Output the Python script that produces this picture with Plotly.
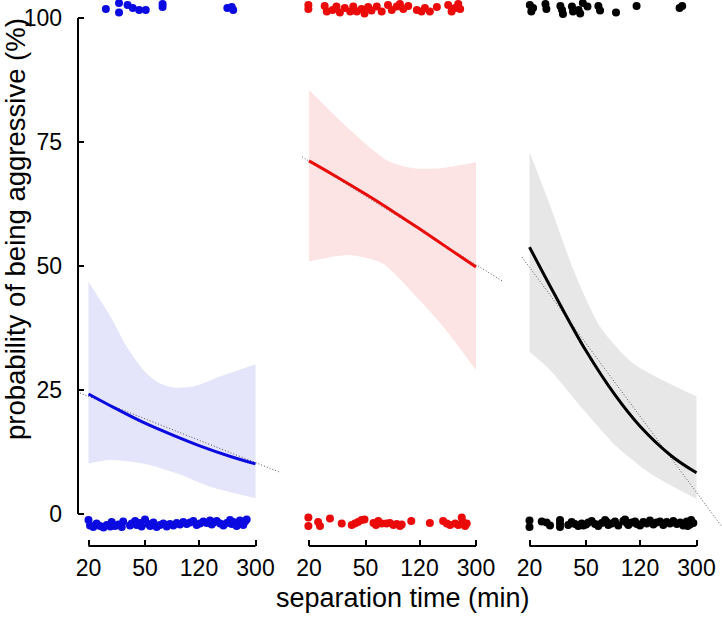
import math
import plotly.graph_objects as go

# ── data (separation time in min, probability in %) ───────────
time_ticks = [20, 50, 120, 300]
prob_ticks = [0, 25, 50, 75, 100]

curve_x = [20, 30, 50, 80, 120, 200, 300]
blue_fit = [24.2, 21.5, 18.3, 15.8, 13.8, 11.6, 10.1]
red_fit = [71.2, 68.3, 64.5, 60.8, 57.5, 53.2, 49.8]
black_fit = [53.8, 44.3, 32.9, 24.0, 17.7, 11.7, 8.3]

blue_up_x = [20, 28.5, 37.2, 48.8, 63.8, 79.2, 109.5, 168.8, 300]
blue_up = [46.8, 39.8, 33.7, 29.0, 26.3, 25.5, 25.7, 27.7, 30.2]
blue_lo_x = [20, 28, 48.5, 83.6, 144, 300]
blue_lo = [10.2, 10.9, 10.2, 8.2, 5.5, 3.2]

red_up_x = [20, 33, 39, 52, 74, 109, 168, 300]
red_up = [85.5, 79.4, 77.4, 74.2, 71.0, 69.7, 69.7, 70.9]
red_lo_x = [20, 38.4, 66, 114, 176, 300]
red_lo = [50.9, 52.2, 50.5, 43.8, 37.8, 29.0]

black_up_x = [20, 28.1, 40.8, 62.8, 107, 300]
black_up = [73.0, 62.0, 49.2, 37.8, 30.4, 23.7]
black_lo_x = [20, 28, 48, 82, 141, 300]
black_lo = [32.7, 29.0, 21.0, 13.6, 8.2, 3.0]

# dotted reference lines (end points)
blue_ref_x, blue_ref = [17.4, 447], [24.4, 8.4]
red_ref_x, red_ref = [17.9, 458], [72.0, 47.0]
black_ref_x, black_ref = [17.7, 454], [51.8, -2.6]

# observed outcomes (jittered around 0 % and 100 %)
blue_top_x = [26.5, 32.8, 32.8, 37.7, 41.0, 45.5, 50.6, 66.5, 66.5, 190, 204, 209]
blue_top_y = [101.8, 103.0, 101.1, 102.6, 102.0, 101.6, 101.6, 102.8, 102.2, 102.0, 102.2, 101.6]

blue_bot_x = [20, 20.5, 21.6, 22.8, 24.1, 25.5, 26.9, 28.5, 29.1, 30.7,
              32.4, 34.3, 35.1, 39.2, 40.3, 42.6, 43.7, 46.1, 47.3, 50.0,
              52.8, 54.3, 57.3, 60.4, 63.8, 67.3, 71.1, 75.0, 79.2, 83.6,
              88.2, 93.1, 98.3, 103.7, 109.5, 115.6, 122, 128.8, 136, 143.5,
              147.5, 151.5, 160, 168.8, 178.2, 188, 198.5, 204, 209.5, 221,
              233, 240, 246, 253, 260]
blue_bot_y = [-1.2, -2.3, -2.6, -1.9, -2.4, -2.7, -2.2, -2.5, -1.6, -2.4,
              -2.1, -2.6, -1.5, -2.3, -1.9, -1.4, -2.2, -1.8, -2.5, -1.1,
              -2.0, -2.4, -1.7, -2.6, -2.2, -1.9, -2.5, -2.0, -2.3, -1.8,
              -2.1, -1.6, -2.0, -1.7, -1.4, -2.2, -1.9, -1.5, -1.8, -1.3,
              -2.1, -1.7, -1.4, -1.9, -2.3, -1.8, -1.2, -2.0, -1.6, -2.4,
              -1.3, -1.9, -2.2, -1.5, -1.1]

red_top_x = [19.8, 19.8, 25.8, 26.7, 29.3, 31.2, 33.0, 35.7, 39.0, 41.0,
             43.4, 46.9, 49.2, 52.2, 55.1, 60.0, 65.0, 72.0, 76.5, 82.9,
             87.4, 92.2, 100, 115, 124, 131, 142, 159, 191, 202,
             214, 225, 232]
red_top_y = [102.6, 101.8, 102.4, 101.3, 101.6, 102.3, 101.1, 102.0, 101.3, 102.3,
             101.3, 101.8, 100.9, 102.2, 101.5, 102.3, 101.3, 102.6, 101.6, 102.3,
             102.8, 101.8, 102.4, 101.6, 101.3, 102.0, 101.3, 102.2, 102.6, 101.3,
             102.0, 102.8, 101.8]

red_bot_x = [19.8, 19.8, 23.2, 23.9, 28.1, 34.0, 40.0, 42.1, 44.3, 46.9,
             49.2, 56.9, 59.3, 61.5, 65.0, 70.2, 74.3, 78.6, 82.9, 87.4,
             89.9, 105, 142, 176, 187, 197, 214, 225, 238, 242,
             251, 258]
red_bot_y = [-0.7, -2.4, -1.6, -2.4, -0.9, -1.9, -2.2, -1.9, -1.6, -1.2,
             -1.1, -1.8, -2.2, -1.4, -1.9, -1.9, -1.8, -2.2, -2.0, -2.4,
             -2.1, -1.4, -1.8, -1.4, -1.9, -2.2, -1.9, -2.2, -0.7, -1.6,
             -2.4, -1.9]

black_top_x = [20.1, 20.6, 21.2, 25.9, 26.3, 33.0, 33.9, 34.4, 39.8, 40.5,
               44.3, 45.5, 47.5, 51.2, 61.1, 62.8, 81.3, 113.5, 228, 238]
black_top_y = [102.6, 101.3, 102.0, 102.8, 101.8, 102.4, 101.6, 100.8, 102.3, 101.3,
               101.6, 100.9, 103.0, 102.3, 102.4, 101.5, 101.1, 102.4, 102.0, 102.4]

black_bot_x = [20, 20, 24.4, 26.4, 27.9, 32.8, 32.8, 32.8, 37.5, 39.6,
               41.8, 44.1, 46.6, 47.9, 50.0, 51.9, 54.8, 57.9, 61.0, 64.5,
               68.1, 70.0, 71.8, 75.9, 80.0, 84.4, 91.6, 94.2, 96.9, 99.4,
               105, 110.8, 113.9, 120, 126.6, 133.8, 141, 149, 157, 166,
               175, 185, 195, 206, 218, 230, 242, 256, 270, 285,
               260, 275]
black_bot_y = [-1.3, -2.6, -1.5, -1.7, -2.3, -1.2, -1.9, -2.6, -2.2, -1.6,
               -2.0, -2.4, -1.9, -2.3, -2.1, -1.7, -1.4, -2.0, -2.4, -1.8,
               -1.2, -1.6, -2.2, -1.9, -1.5, -2.3, -1.4, -1.1, -1.8, -2.2,
               -1.7, -1.5, -2.0, -2.3, -1.6, -1.9, -1.3, -2.1, -1.7, -1.5,
               -2.2, -1.6, -1.9, -1.4, -2.0, -1.7, -2.3, -1.5, -2.1, -1.8,
               -2.4, -1.2]

# ── layout geometry (pixels) ──────────────────────────────────
W, H = 722, 619
PX_DEC = 142.0                      # pixels per decade on the time axis
tick20_px = [88.5, 309.0, 529.5]    # where the "20" tick sits in each panel
dom_px = [(78, 296), (298.5, 516.5), (519, 722)]
y0_px, y100_px, xaxis_px = 514, 18, 546
px_per_unit = (y0_px - y100_px) / 100.0
y_lo = -(xaxis_px - y0_px) / px_per_unit
y_hi = 100 + y100_px / px_per_unit
y_dom_bottom = 1 - xaxis_px / H

FONT = "Arial, Liberation Sans, sans-serif"

panels = [
    dict(col="rgb(10,10,225)", band="rgb(228,228,250)", fit=blue_fit,
         up=(blue_up_x, blue_up), lo=(blue_lo_x, blue_lo), ref=(blue_ref_x, blue_ref),
         top=(blue_top_x, blue_top_y), bot=(blue_bot_x, blue_bot_y)),
    dict(col="rgb(235,10,10)", band="rgb(253,228,228)", fit=red_fit,
         up=(red_up_x, red_up), lo=(red_lo_x, red_lo), ref=(red_ref_x, red_ref),
         top=(red_top_x, red_top_y), bot=(red_bot_x, red_bot_y)),
    dict(col="rgb(0,0,0)", band="rgb(231,231,231)", fit=black_fit,
         up=(black_up_x, black_up), lo=(black_lo_x, black_lo), ref=(black_ref_x, black_ref),
         top=(black_top_x, black_top_y), bot=(black_bot_x, black_bot_y)),
]

fig = go.Figure()
layout = {}
shapes = []

for i, p in enumerate(panels):
    n = "" if i == 0 else str(i + 1)
    xa = "x" + n
    # confidence band
    fig.add_trace(go.Scatter(x=p["lo"][0], y=p["lo"][1], xaxis=xa, yaxis="y",
                             mode="lines", line=dict(width=0, shape="spline", smoothing=0.7),
                             hoverinfo="skip"))
    fig.add_trace(go.Scatter(x=p["up"][0], y=p["up"][1], xaxis=xa, yaxis="y",
                             mode="lines", line=dict(width=0, shape="spline", smoothing=0.7),
                             fill="tonexty", fillcolor=p["band"], hoverinfo="skip"))
    # dotted reference
    fig.add_trace(go.Scatter(x=p["ref"][0], y=p["ref"][1], xaxis=xa, yaxis="y",
                             mode="lines",
                             line=dict(color="rgb(90,90,90)", width=1, dash="1px,2px")))
    # fitted curve
    fig.add_trace(go.Scatter(x=curve_x, y=p["fit"], xaxis=xa, yaxis="y",
                             mode="lines", line=dict(color=p["col"], width=3, shape="spline")))
    # outcomes
    for xs, ys in (p["top"], p["bot"]):
        fig.add_trace(go.Scatter(x=xs, y=ys, xaxis=xa, yaxis="y", mode="markers",
                                 marker=dict(color=p["col"], size=8, line=dict(width=0)),
                                 cliponaxis=False))

    l_px, r_px = dom_px[i]
    lo = math.log10(20) - (tick20_px[i] - l_px) / PX_DEC
    hi = math.log10(20) + (r_px - tick20_px[i]) / PX_DEC
    layout["xaxis" + n] = dict(
        type="log", range=[lo, hi], domain=[l_px / W, r_px / W], anchor="y",
        tickvals=time_ticks, ticktext=[str(t) for t in time_ticks],
        ticks="inside", ticklen=6, tickwidth=2, tickcolor="black",
        showline=False, showgrid=False, zeroline=False, automargin=False,
        tickfont=dict(size=23, color="black", family=FONT),
        ticklabelstandoff=6,
    )
    shapes.append(dict(type="line", xref=xa, yref="paper", x0=20, x1=300,
                       y0=y_dom_bottom, y1=y_dom_bottom,
                       line=dict(color="black", width=2)))

shapes.append(dict(type="line", xref="paper", yref="y", x0=78 / W, x1=78 / W,
                   y0=0, y1=100, line=dict(color="black", width=2)))

layout["yaxis"] = dict(
    range=[y_lo, y_hi], domain=[y_dom_bottom, 1], anchor="x",
    tickvals=prob_ticks, ticks="inside", ticklen=6, tickwidth=2, tickcolor="black",
    showline=False, showgrid=False, zeroline=False, automargin=False,
    tickfont=dict(size=23, color="black", family=FONT),
    ticklabelstandoff=15,
)

fig.update_layout(
    **layout,
    shapes=shapes,
    width=W, height=H,
    margin=dict(l=0, r=0, t=0, b=0),
    plot_bgcolor="white", paper_bgcolor="white",
    showlegend=False,
    font=dict(family=FONT, color="black"),
    annotations=[
        dict(text="separation time (min)", xref="paper", yref="paper",
             x=403 / W, y=1 - 598 / H, xanchor="center", yanchor="middle",
             showarrow=False, font=dict(size=27, family=FONT, color="black")),
        dict(text="probability of being aggressive (%)", xref="paper", yref="paper",
             x=16 / W, y=1 - 229 / H, xanchor="center", yanchor="middle",
             textangle=-90, showarrow=False,
             font=dict(size=27.5, family=FONT, color="black")),
    ],
)

# the page body has a default 8px margin; drop it so the figure fills the window
fig.write_html("out.html", config={"displayModeBar": False},
               post_script="document.body.style.margin='0px';")
